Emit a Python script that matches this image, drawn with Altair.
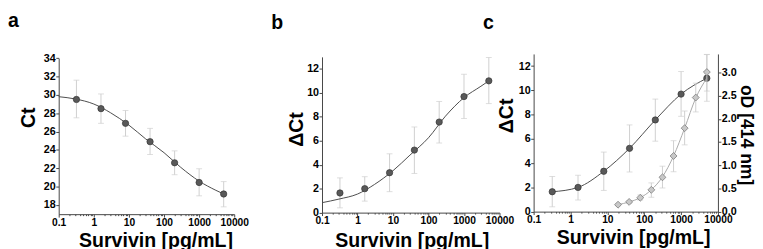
import altair as alt
import pandas as pd

# ---- data ----
conc = [0.32, 1.6, 8, 40, 200, 1000, 5000]
ct = [29.5, 28.5, 26.9, 24.9, 22.6, 20.45, 19.2]
ct_lo = [27.5, 26.9, 25.5, 23.5, 21.3, 19.0, 17.8]
ct_hi = [31.6, 30.1, 28.3, 26.35, 23.9, 21.95, 20.55]

dct = [1.64, 2.0, 3.33, 5.22, 7.56, 9.69, 11.0]
dct_lo = [0.4, 0.96, 1.75, 3.27, 5.81, 7.86, 9.1]
dct_hi = [2.9, 3.0, 4.91, 7.15, 9.28, 11.55, 12.95]

fit_x = [0.1, 0.3, 1, 3, 10, 30, 100, 300, 1000, 3000, 5000]
fit_ct = [29.8, 29.55, 29.0, 28.05, 26.7, 25.2, 23.7, 22.1, 20.6, 19.6, 19.2]
fit_dct = [0.83, 1.13, 1.55, 2.35, 3.5, 4.8, 6.25, 8.05, 9.6, 10.55, 11.0]

elisa_conc = [19.5, 39, 78, 156, 312.5, 625, 1250, 2500, 5000]
od = [0.15, 0.21, 0.30, 0.47, 0.74, 1.20, 1.80, 2.46, 3.01]
od_lo = [0.13, 0.18, 0.25, 0.31, 0.51, 0.86, 1.44, 2.15, 2.60]
od_hi = [0.17, 0.24, 0.36, 0.62, 0.98, 1.53, 2.17, 2.77, 3.39]
od_fit = [0.15, 0.21, 0.30, 0.47, 0.75, 1.20, 1.80, 2.45, 2.88]

x_ticks = [0.1, 1, 10, 100, 1000, 10000]
x_minor = [0.2, 0.3, 0.4, 0.5, 0.6, 0.7, 0.8, 0.9,
           2, 3, 4, 5, 6, 7, 8, 9,
           20, 30, 40, 50, 60, 70, 80, 90,
           200, 300, 400, 500, 600, 700, 800, 900,
           2000, 3000, 4000, 5000, 6000, 7000, 8000, 9000]
ct_ticks = [18, 20, 22, 24, 26, 28, 30, 32, 34]
dct_ticks = [0, 2, 4, 6, 8, 10, 12]
od_ticks = [0.0, 0.5, 1.0, 1.5, 2.0, 2.5, 3.0]

pts = pd.DataFrame({"conc": conc, "ct": ct, "ct_lo": ct_lo, "ct_hi": ct_hi,
                    "dct": dct, "dct_lo": dct_lo, "dct_hi": dct_hi})
fit = pd.DataFrame({"x": fit_x, "ct": fit_ct, "dct": fit_dct})
elisa = pd.DataFrame({"conc": elisa_conc, "od": od, "lo": od_lo, "hi": od_hi, "fit": od_fit})

FONT = "Liberation Sans"
ERR = "#cfcfcf"
DARK_FILL = "#595959"
DARK_LINE = "#4a4a4a"


def xscale(rng):
    return alt.Scale(type="log", domain=[0.1, 10000], range=rng, nice=False)


def xenc(field, rng, title_x, title_y):
    return alt.X(f"{field}:Q", scale=xscale(rng),
                 axis=alt.Axis(values=x_ticks, format="~g", title="Survivin [pg/mL]",
                               labelFlush=False, labelOverlap=False, labelFontSize=10.5,
                               titleX=title_x, titleY=title_y, titleAlign="center",
                               titleBaseline="alphabetic", titleAngle=0, orient="bottom"))


def minor_layer(rng):
    return alt.Chart(pts).mark_point(opacity=0).encode(
        x=alt.X("conc:Q", scale=xscale(rng),
                axis=alt.Axis(values=x_minor, labels=False, domain=False, tickSize=1.5,
                              title=None, orient="bottom", grid=False)))


def yaxis(title, vals, tx, ty, orient="left", fmt=None, size=20):
    kw = dict(values=vals, title=title, orient=orient, titleX=tx, titleY=ty,
              titleAlign="center", titleBaseline="alphabetic", labelFontSize=11,
              titleAngle=(-90 if orient == "left" else 90), titleFontSize=size)
    if fmt:
        kw["format"] = fmt
    return alt.Axis(**kw)


def panel_title(t):
    return alt.TitleParams(t, anchor="start", frame="group", dx=-52, fontSize=20,
                           font=FONT, fontWeight="bold", color="black", offset=21.5)


def dark_layers(data_y, lo, hi, fitfield, fitdata, xr, yscale, yax, tx, ty, through_points=False):
    X = xenc("conc", xr, tx, ty)
    Y = alt.Y(f"{data_y}:Q", scale=yscale, axis=yax)
    base = alt.Chart(pts)
    rule = base.mark_rule(color=ERR, strokeWidth=1).encode(
        x=X, y=alt.Y(f"{lo}:Q", scale=yscale, axis=yax), y2=f"{hi}:Q")
    cap_lo = base.mark_tick(color=ERR, orient="horizontal", size=6, thickness=1).encode(
        x=X, y=alt.Y(f"{lo}:Q", scale=yscale, axis=yax))
    cap_hi = base.mark_tick(color=ERR, orient="horizontal", size=6, thickness=1).encode(
        x=X, y=alt.Y(f"{hi}:Q", scale=yscale, axis=yax))
    if through_points:
        curve = base.mark_line(color=DARK_LINE, strokeWidth=1, interpolate="monotone").encode(x=X, y=Y)
    else:
        curve = alt.Chart(fitdata).mark_line(color=DARK_LINE, strokeWidth=1, interpolate="monotone").encode(
            x=xenc("x", xr, tx, ty), y=alt.Y(f"{fitfield}:Q", scale=yscale, axis=yax))
    dots = base.mark_point(shape="circle", filled=True, fill=DARK_FILL, stroke="#333333",
                           strokeWidth=0.7, size=42, opacity=1).encode(x=X, y=Y)
    return [rule, cap_lo, cap_hi, curve, dots]


# ---- panel a ----
ya_scale = alt.Scale(domain=[17, 34], range=[164.3, 4.3], nice=False, zero=False)
ya_axis = yaxis("Ct", ct_ticks, -25.2, 65)
pa_main = alt.layer(*dark_layers("ct", "ct_lo", "ct_hi", "ct", fit, [0, 180], ya_scale, ya_axis, 99.3, 33.5))
pa = alt.layer(pa_main, minor_layer([0, 180])).resolve_axis(x="independent").properties(
    width=234.3, height=164.3, title=panel_title("a"))

# ---- panel b ----
yb_scale = alt.Scale(domain=[0, 13], range=[162.7, 3], nice=False)
yb_axis = yaxis("ΔCt", dct_ticks, -20.5, 77)
pb_main = alt.layer(*dark_layers("dct", "dct_lo", "dct_hi", "dct", fit, [0, 182], yb_scale, yb_axis, 92, 34.8))
pb = alt.layer(pb_main, minor_layer([0, 182])).resolve_axis(x="independent").properties(
    width=182, height=162.7, title=panel_title("b"))

# ---- panel c ----
yc_scale = alt.Scale(domain=[0, 13], range=[161.7, 0], nice=False)
yc_axis = yaxis("ΔCt", dct_ticks, -22, 63)
left = alt.layer(*dark_layers("dct", "dct_lo", "dct_hi", "dct", fit, [0, 189], yc_scale, yc_axis, 102, 32.8,
                              through_points=True))

yr_scale = alt.Scale(domain=[0, 3.4], range=[161.7, 0], nice=False)
yr_axis = yaxis("oD [414 nm]", od_ticks, 23.5, 82.7, orient="right", fmt=".1f", size=18)
XE = xenc("conc", [0, 189], 102, 32.8)
eb = alt.Chart(elisa)
r_rule = eb.mark_rule(color=ERR, strokeWidth=1).encode(
    x=XE, y=alt.Y("lo:Q", scale=yr_scale, axis=yr_axis), y2="hi:Q")
r_cl = eb.mark_tick(color=ERR, orient="horizontal", size=6, thickness=1).encode(
    x=XE, y=alt.Y("lo:Q", scale=yr_scale, axis=yr_axis))
r_ch = eb.mark_tick(color=ERR, orient="horizontal", size=6, thickness=1).encode(
    x=XE, y=alt.Y("hi:Q", scale=yr_scale, axis=yr_axis))
r_line = eb.mark_line(color="#a8a8a8", strokeWidth=1, interpolate="monotone").encode(
    x=XE, y=alt.Y("fit:Q", scale=yr_scale, axis=yr_axis))
r_pts = eb.mark_point(shape="diamond", filled=True, fill="#c8c8c8", stroke="#7a7a7a",
                      strokeWidth=0.8, size=50, opacity=1).encode(
    x=XE, y=alt.Y("od:Q", scale=yr_scale, axis=yr_axis))
right = alt.layer(r_rule, r_cl, r_ch, r_line, r_pts)

pc_main = alt.layer(left, right).resolve_scale(y="independent")
pc = alt.layer(pc_main, minor_layer([0, 189])).resolve_axis(x="independent").properties(
    width=189, height=161.7, title=panel_title("c"))

chart = alt.hconcat(pa, pb, pc, spacing=35, bounds="flush").properties(padding=0).configure_view(
    stroke=None).configure_axis(
    grid=False, domainColor="#444444", tickColor="#444444", domainWidth=1, tickWidth=1,
    tickSize=3, labelPadding=0.5, labelFont=FONT, labelFontSize=10, labelFontWeight="bold",
    labelColor="black", titleFont=FONT, titleFontSize=20, titleFontWeight="bold",
    titleColor="black").configure_concat(spacing=35)

chart.save("out.html", embed_options={"renderer": "svg", "actions": False})
